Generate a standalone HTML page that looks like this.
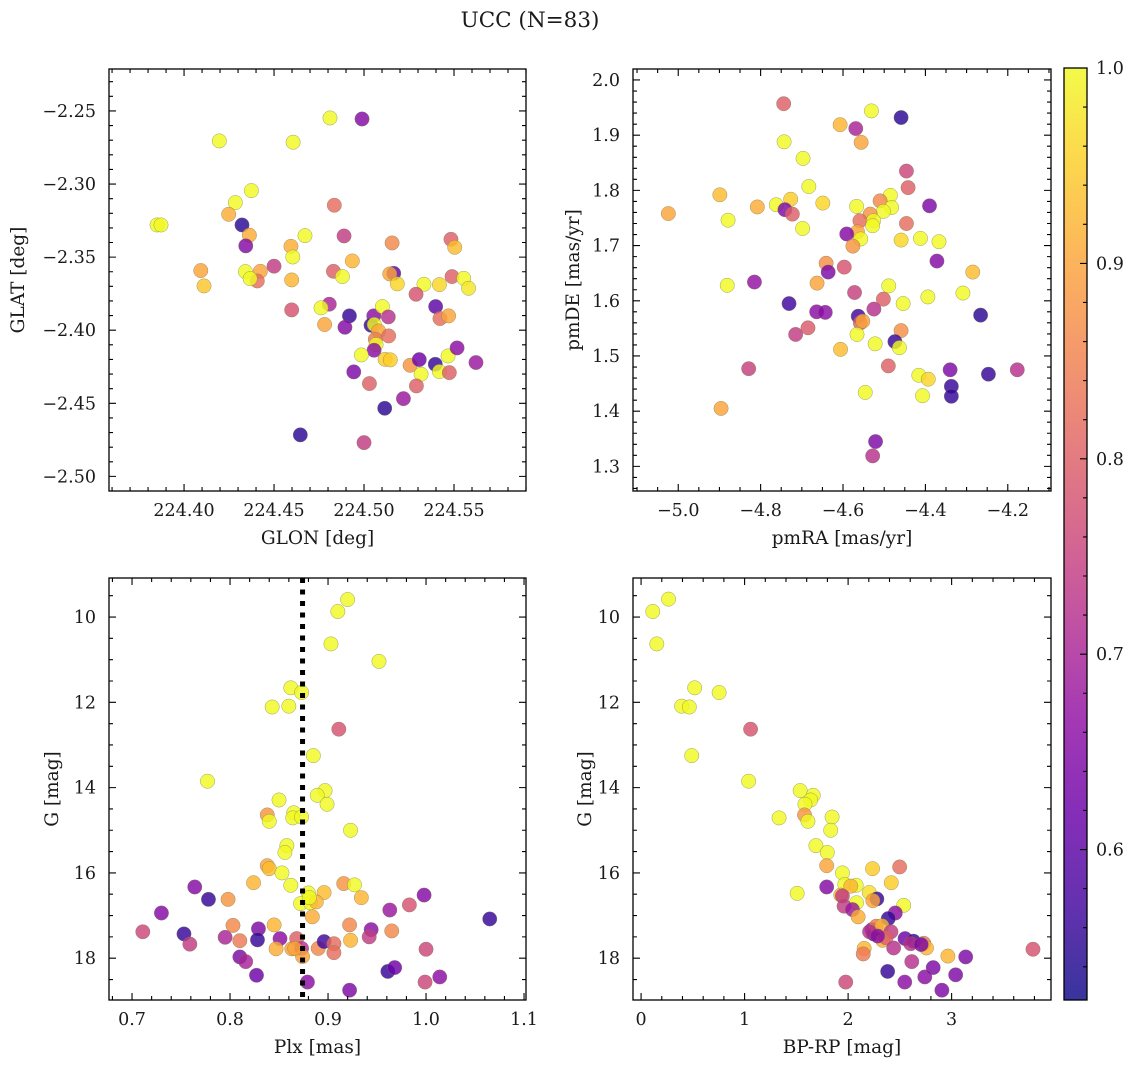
<!DOCTYPE html>
<html><head><meta charset="utf-8">
<style>
html,body{margin:0;padding:0;background:#fff;}
svg text{font-family:"DejaVu Serif","Liberation Serif",serif;fill:#1a1a1a;}
</style></head>
<body>
<svg id="fig" width="1136" height="1068" viewBox="0 0 1136 1068" xmlns="http://www.w3.org/2000/svg">
<text x="530" y="27" font-size="21.5" text-anchor="middle">UCC (N=83)</text>
</svg>
<script>
// ---------- data ----------
const glon = [224.4811,224.4989,224.4196,224.4606,224.4374,224.4285,224.4248,224.4835,224.3850,224.3872,224.4322,224.4363,224.4343,224.4672,224.4889,224.4594,224.4604,224.5156,224.5483,224.5504,224.4093,224.4111,224.4341,224.4424,224.4407,224.4367,224.4500,224.4598,224.4830,224.4880,224.4935,224.5165,224.5143,224.5185,224.5333,224.5419,224.5489,224.5554,224.5581,224.5289,224.4598,224.4807,224.4761,224.4781,224.4919,224.4894,224.5054,224.5102,224.5135,224.5039,224.5057,224.5081,224.5063,224.5137,224.5067,224.5056,224.4985,224.5117,224.5146,224.4943,224.5030,224.5256,224.5307,224.5317,224.5396,224.5419,224.5474,224.5467,224.5517,224.5622,224.5398,224.5422,224.5470,224.5291,224.5219,224.5115,224.4646,224.5000];
const glat = [-2.2548,-2.2555,-2.2705,-2.2714,-2.3045,-2.3127,-2.3207,-2.3145,-2.3280,-2.3280,-2.3280,-2.3350,-2.3423,-2.3353,-2.3355,-2.3426,-2.3499,-2.3403,-2.3378,-2.3433,-2.3592,-2.3697,-2.3599,-2.3597,-2.3663,-2.3647,-2.3562,-2.3656,-2.3597,-2.3633,-2.3526,-2.3611,-2.3615,-2.3683,-2.3686,-2.3688,-2.3633,-2.3645,-2.3713,-2.3754,-2.3861,-2.3822,-2.3847,-2.3961,-2.3902,-2.3980,-2.3902,-2.3838,-2.3909,-2.3966,-2.3961,-2.4005,-2.4062,-2.4039,-2.4098,-2.4137,-2.4169,-2.4199,-2.4203,-2.4285,-2.4365,-2.4240,-2.4201,-2.4301,-2.4233,-2.4283,-2.4290,-2.4176,-2.4121,-2.4221,-2.3838,-2.3920,-2.3902,-2.4381,-2.4468,-2.4534,-2.4716,-2.4769];
const prob1 = [1,0.65,1,1,1,1,0.91,0.82,1,1,0.55,0.91,0.65,1,0.74,0.91,1,0.86,0.8,0.93,0.9,0.94,1,0.9,0.82,1,0.74,0.92,0.8,1,0.92,0.6,0.9,0.96,1,0.96,0.8,1,0.98,0.78,0.78,0.7,1,0.9,0.56,0.65,0.66,1,0.72,0.56,1,0.9,0.84,0.82,1,0.66,1,0.95,0.95,0.64,0.8,0.88,0.62,1,0.56,1,0.8,1,0.66,0.68,0.6,0.82,0.9,0.8,0.68,0.55,0.55,0.74];

const pmra = [-4.744,-4.531,-4.459,-4.607,-4.569,-4.743,-4.556,-4.697,-4.446,-4.683,-4.442,-4.899,-4.727,-4.485,-4.510,-5.024,-4.808,-4.762,-4.741,-4.723,-4.649,-4.567,-4.482,-4.502,-4.534,-4.390,-4.879,-4.559,-4.526,-4.528,-4.446,-4.698,-4.565,-4.591,-4.557,-4.576,-4.459,-4.412,-4.367,-4.372,-4.641,-4.636,-4.597,-4.285,-4.881,-4.815,-4.663,-4.489,-4.572,-4.502,-4.394,-4.309,-4.731,-4.454,-4.664,-4.643,-4.525,-4.563,-4.558,-4.552,-4.266,-4.685,-4.715,-4.566,-4.459,-4.606,-4.522,-4.474,-4.463,-4.490,-4.829,-4.340,-4.247,-4.177,-4.416,-4.393,-4.337,-4.407,-4.337,-4.546,-4.896,-4.521,-4.528];
const pmde = [1.957,1.944,1.932,1.919,1.912,1.888,1.887,1.858,1.835,1.807,1.805,1.792,1.784,1.791,1.781,1.758,1.770,1.774,1.765,1.757,1.777,1.771,1.769,1.762,1.757,1.772,1.746,1.745,1.745,1.736,1.740,1.731,1.725,1.721,1.712,1.699,1.710,1.713,1.707,1.672,1.668,1.652,1.661,1.652,1.628,1.634,1.632,1.627,1.615,1.603,1.607,1.614,1.595,1.595,1.580,1.579,1.585,1.572,1.560,1.563,1.574,1.551,1.539,1.539,1.546,1.512,1.522,1.526,1.515,1.482,1.477,1.475,1.467,1.475,1.465,1.458,1.445,1.428,1.427,1.434,1.405,1.345,1.319];
const prob2 = [0.8,1,0.55,0.92,0.7,1,0.9,1,0.76,1,0.8,0.93,0.95,1,0.86,0.9,0.91,1,0.64,0.8,0.96,1,1,1,0.88,0.64,1,0.82,1,1,0.82,1,0.9,0.65,1,0.88,0.96,1,1,0.65,0.87,0.64,0.78,0.93,1,0.67,0.9,1,0.75,0.8,1,1,0.57,1,0.66,0.66,0.72,0.57,0.8,0.9,0.55,0.79,0.74,1,0.87,0.93,1,0.56,1,0.8,0.75,0.64,0.56,0.72,1,0.96,0.56,1,0.56,1,0.9,0.64,0.72];

const plx = [0.920,0.910,0.903,0.952,0.862,0.873,0.843,0.860,0.911,0.885,0.777,0.897,0.889,0.899,0.850,0.838,0.840,0.865,0.864,0.873,0.923,0.858,0.856,0.838,0.840,0.853,0.824,0.862,0.916,0.927,0.764,0.880,0.896,0.998,0.778,0.798,0.872,0.882,0.888,0.934,0.730,0.963,0.983,0.884,1.065,0.711,0.753,0.759,0.795,0.803,0.810,0.829,0.828,0.845,0.851,0.847,0.863,0.868,0.873,0.874,0.890,0.896,0.906,0.906,0.922,0.923,0.944,0.942,0.965,1.000,0.810,0.816,0.827,0.879,0.922,0.961,0.968,0.999,1.014,0.866,0.881];
const gmag3 = [9.59,9.87,10.63,11.04,11.66,11.77,12.11,12.09,12.63,13.25,13.85,14.07,14.18,14.39,14.29,14.64,14.79,14.59,14.71,14.69,15.00,15.36,15.52,15.83,15.90,16.00,16.23,16.29,16.25,16.28,16.33,16.47,16.46,16.52,16.62,16.62,16.72,16.70,16.68,16.58,16.94,16.87,16.75,17.03,17.08,17.38,17.43,17.67,17.51,17.23,17.59,17.31,17.57,17.22,17.54,17.78,17.78,17.54,17.77,17.96,17.77,17.61,17.66,17.87,17.22,17.58,17.33,17.50,17.36,17.79,17.97,18.08,18.40,18.56,18.75,18.31,18.22,18.56,18.44,17.77,16.58];
const prob3 = [1,1,1,1,1,1,1,1,0.78,1,1,1,1,1,1,0.88,1,1,1,1,1,1,1,0.9,0.93,1,0.92,1,0.88,1,0.65,1,0.93,0.65,0.56,0.88,1,1,0.92,0.92,0.65,0.68,0.78,0.91,0.56,0.76,0.56,0.74,0.7,0.86,0.84,0.64,0.56,0.92,0.66,0.91,0.9,0.8,0.72,0.9,0.86,0.57,0.82,0.82,0.86,0.92,0.66,0.74,0.86,0.76,0.64,0.7,0.62,0.66,0.64,0.56,0.62,0.76,0.66,0.9,1];

const bprp = [0.113,0.265,0.152,0.518,0.754,0.392,0.466,1.058,0.489,1.039,1.537,1.663,1.638,1.583,1.579,1.612,1.333,1.845,1.832,1.689,1.799,1.793,2.236,2.498,1.945,2.417,1.508,1.793,1.968,2.078,2.026,1.929,2.204,2.278,2.239,1.945,2.081,2.537,1.961,2.042,2.097,2.456,2.388,2.230,2.246,2.272,2.327,2.414,2.333,2.366,2.550,2.631,2.605,2.731,2.757,2.440,2.155,2.146,2.964,3.136,3.786,2.615,2.382,2.822,3.039,2.741,2.547,1.977,2.906,2.207,2.706,2.285];
const gmag4 = [9.87,9.58,10.63,11.66,11.77,12.09,12.11,12.63,13.25,13.85,14.07,14.18,14.29,14.39,14.64,14.79,14.71,14.69,15.00,15.36,15.52,15.83,15.90,15.86,16.00,16.23,16.48,16.33,16.27,16.29,16.31,16.52,16.46,16.61,16.65,16.54,16.70,16.76,16.78,16.86,17.03,16.94,17.07,17.33,17.43,17.25,17.24,17.38,17.58,17.52,17.54,17.60,17.66,17.65,17.76,17.76,17.77,17.90,17.95,17.97,17.79,18.08,18.31,18.22,18.39,18.44,18.56,18.56,18.75,17.38,17.68,17.48];
const prob4 = [1,1,1,1,1,1,1,0.78,1,1,1,1,1,1,0.88,1,1,1,1,1,1,0.9,0.95,0.82,1,0.95,1,0.65,1,1,0.92,0.92,0.97,0.56,0.9,0.74,1,1,0.74,0.68,0.91,0.66,0.56,0.64,0.56,0.84,0.92,0.74,0.91,0.8,0.62,0.56,0.72,0.84,0.92,0.72,0.92,0.84,0.92,0.64,0.78,0.72,0.56,0.64,0.64,0.66,0.66,0.76,0.64,0.72,0.64,0.66];

const cbTicks = [0.6,0.7,0.8,0.9,1.0];
const plxLine = 0.874;

// ---------- helpers ----------
const NS = "http://www.w3.org/2000/svg";
const svg = document.getElementById('fig');
const TF = 17.5, LF = 18.5;
function mk(tag, attrs, parent){const e=document.createElementNS(NS,tag);for(const k in attrs)e.setAttribute(k,attrs[k]);(parent||svg).appendChild(e);return e;}
const stops=[[13,8,135],[65,4,157],[106,0,168],[143,13,164],[177,42,144],[204,71,120],[225,100,98],[242,132,75],[252,166,54],[252,206,37],[240,249,33]];
const VMIN=0.523, VMAX=1.0;
function plasma(v){let t=(v-VMIN)/(VMAX-VMIN);t=Math.max(0,Math.min(1,t));const f=t*10,i=Math.min(9,Math.floor(f)),r=f-i;const a=stops[i],b=stops[i+1];return `rgb(${Math.round(a[0]+(b[0]-a[0])*r)},${Math.round(a[1]+(b[1]-a[1])*r)},${Math.round(a[2]+(b[2]-a[2])*r)})`;}
function fmt(v,d){const s=Math.abs(v).toFixed(d);return (v<-1e-9?'\u2212':'')+s;}

function panel(o){
  const g=mk('g',{});
  
  
  const L=o.L,R=o.R,T=o.T,B=o.B;
  const sx=v=>L+(v-o.x0)/(o.x1-o.x0)*(R-L);
  const sy=v=>o.inv? T+(v-o.y0)/(o.y1-o.y0)*(B-T) : B-(v-o.y0)/(o.y1-o.y0)*(B-T);
  const pg=mk('g',{},g);
  
  
  for(let i=0;i<o.xs.length;i++){
    const c=mk('circle',{cx:sx(o.xs[i]),cy:sy(o.ys[i]),r:7.2,fill:plasma(o.ps[i]),'fill-opacity':0.82,stroke:'#7a7a50','stroke-width':0.5,'stroke-opacity':0.7},pg);
    
    
  }
  if(o.vline!==undefined){
    const l=mk('line',{x1:sx(o.vline),x2:sx(o.vline),y1:T,y2:B,stroke:'#000','stroke-width':5,'stroke-dasharray':'5 6.5'},g);
    
    
  }
  const fr=mk('rect',{x:L,y:T,width:R-L,height:B-T,fill:'none',stroke:'#000','stroke-width':1.3},g);
  
  
  const eps=1e-9;
  function ticks(lo,hi,step){const a=[];let s=Math.ceil(Math.min(lo,hi)/step-eps);for(let v=s*step;v<=Math.max(lo,hi)+eps;v=(++s)*step)a.push(+v.toFixed(6));return a;}
  const xa=ticks(o.x0,o.x1,o.xminor), ya=ticks(Math.min(o.y0,o.y1),Math.max(o.y0,o.y1),o.yminor);
  let d='';
  xa.forEach(v=>{const maj=Math.abs(v/o.xmajor-Math.round(v/o.xmajor))<1e-4;const len=maj?7:4;const x=sx(v);if(x<L-0.5||x>R+0.5)return;d+=`M${x},${B}v${-len}M${x},${T}v${len}`;});
  ya.forEach(v=>{const maj=Math.abs(v/o.ymajor-Math.round(v/o.ymajor))<1e-4;const len=maj?7:4;const y=sy(v);if(y<T-0.5||y>B+0.5)return;d+=`M${L},${y}h${len}M${R},${y}h${-len}`;});
  const tp=mk('path',{d:d,stroke:'#000','stroke-width':1.1,fill:'none'},g);
  
  
  o.xlabels.forEach(v=>{const t=mk('text',{x:sx(v),y:B+25,'font-size':TF,'text-anchor':'middle'},g);t.textContent=fmt(v,o.xd);
    
    });
  o.ylabels.forEach(v=>{const t=mk('text',{x:L-13,y:sy(v)+6,'font-size':TF,'text-anchor':'end'},g);t.textContent=fmt(v,o.yd);
    
    });
  const xt=mk('text',{x:(L+R)/2,y:B+53,'font-size':LF,'text-anchor':'middle'},g);xt.textContent=o.xtitle;
  
  
  const yt=mk('text',{x:0,y:0,'font-size':LF,'text-anchor':'middle',transform:`translate(${o.ytx},${(T+B)/2}) rotate(-90)`},g);yt.textContent=o.ytitle;
  
  
}

panel({name:'glon-glat-panel',L:109,R:526,T:69,B:491,x0:224.3583,x1:224.5900,y0:-2.5100,y1:-2.2213,xs:glon,ys:glat,ps:prob1,
  xminor:0.01,xmajor:0.05,yminor:0.01,ymajor:0.05,xlabels:[224.40,224.45,224.50,224.55],ylabels:[-2.25,-2.30,-2.35,-2.40,-2.45,-2.50],xd:2,yd:2,
  xtitle:'GLON [deg]',ytitle:'GLAT [deg]',ytx:24});
panel({name:'pm-panel',L:633,R:1051,T:69,B:491,x0:-5.1098,x1:-4.0951,y0:1.2554,y1:2.0199,xs:pmra,ys:pmde,ps:prob2,
  xminor:0.05,xmajor:0.2,yminor:0.02,ymajor:0.1,xlabels:[-5.0,-4.8,-4.6,-4.4,-4.2],ylabels:[1.3,1.4,1.5,1.6,1.7,1.8,1.9,2.0],xd:1,yd:1,
  xtitle:'pmRA [mas/yr]',ytitle:'pmDE [mas/yr]',ytx:579});
panel({name:'plx-g-panel',L:109,R:526,T:578,B:1000,x0:0.6765,x1:1.1020,y0:9.085,y1:18.98,inv:true,xs:plx,ys:gmag3,ps:prob3,vline:plxLine,
  xminor:0.02,xmajor:0.1,yminor:0.5,ymajor:2,xlabels:[0.7,0.8,0.9,1.0,1.1],ylabels:[10,12,14,16,18],xd:1,yd:0,
  xtitle:'Plx [mas]',ytitle:'G [mag]',ytx:58});
panel({name:'cmd-panel',L:633,R:1051,T:578,B:1000,x0:-0.078,x1:3.96,y0:9.085,y1:18.98,inv:true,xs:bprp,ys:gmag4,ps:prob4,
  xminor:0.2,xmajor:1,yminor:0.5,ymajor:2,xlabels:[0,1,2,3],ylabels:[10,12,14,16,18],xd:0,yd:0,
  xtitle:'BP-RP [mag]',ytitle:'G [mag]',ytx:591});

(function(){
  const L=1064,R=1087,T=68,B=1000;
  const g=mk('g',{});
  
  
  const defs=mk('defs',{},g);
  const lg=mk('linearGradient',{id:'cbg',x1:0,y1:1,x2:0,y2:0},defs);
  for(let i=0;i<=20;i++){const v=VMIN+(VMAX-VMIN)*i/20;mk('stop',{offset:i/20,'stop-color':plasma(v),'stop-opacity':0.82},lg);}
  const r=mk('rect',{x:L,y:T,width:R-L,height:B-T,fill:'url(#cbg)',stroke:'#000','stroke-width':1.3},g);
  
  
  const sy=v=>B-(v-VMIN)/(VMAX-VMIN)*(B-T);
  let d='';
  for(let v=0.54;v<=1.0001;v+=0.02){const maj=Math.abs(v*10-Math.round(v*10))<1e-4;d+=`M${R},${sy(v)}h${maj?-7:-4}`;}
  mk('path',{d:d,stroke:'#000','stroke-width':1.1},g);
  cbTicks.forEach(v=>{const t=mk('text',{x:R+9,y:sy(v)+6,'font-size':TF},g);t.textContent=v.toFixed(1);
    
    });
})();
</script>
</body></html>
